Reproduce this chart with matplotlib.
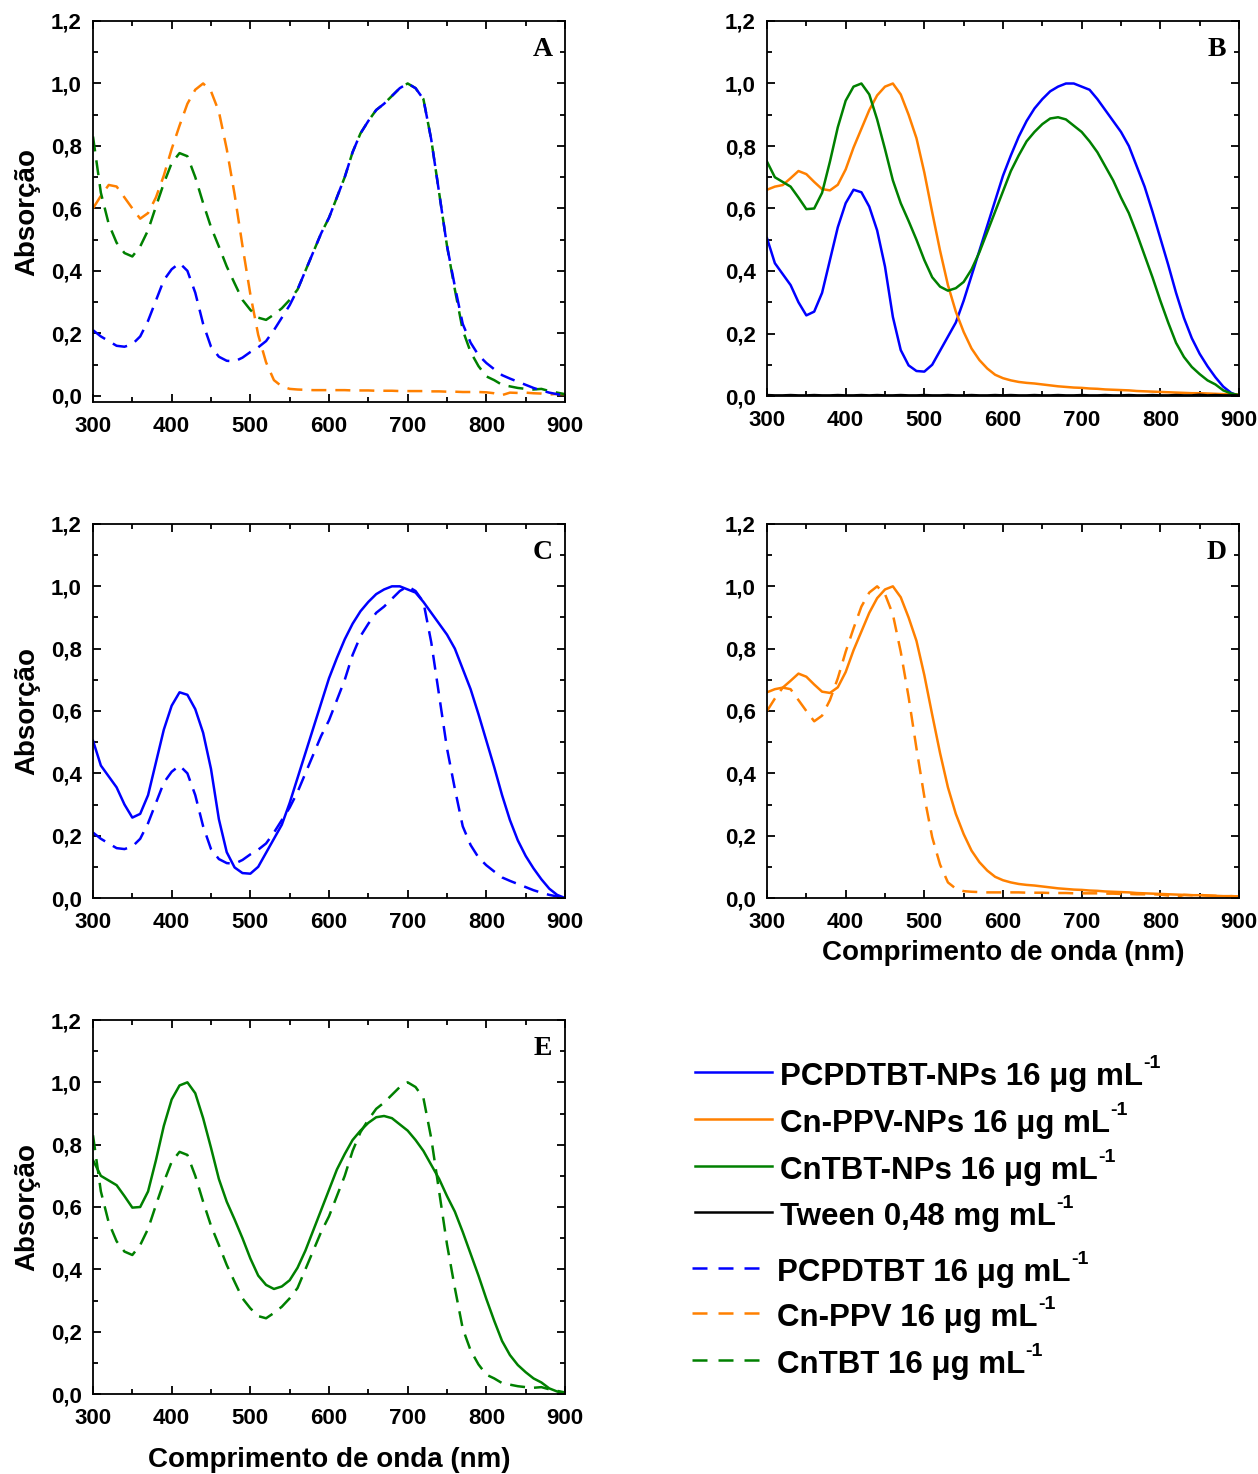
import matplotlib
matplotlib.use("Agg")
import matplotlib.pyplot as plt
from matplotlib.lines import Line2D
from matplotlib.text import Annotation
from matplotlib.ticker import MultipleLocator, FuncFormatter

plt.rcParams['font.family'] = ['Liberation Sans', 'DejaVu Sans']
plt.rcParams['font.weight'] = 'bold'

# ---------------- data ----------------
wavelength = list(range(300, 901, 10))

pcpdtbt_nps = [0.505, 0.425, 0.39, 0.355, 0.30, 0.258, 0.27, 0.33, 0.435, 0.54,
               0.617, 0.66, 0.652, 0.606, 0.53, 0.414, 0.253, 0.147, 0.098, 0.08,
               0.078, 0.10, 0.145, 0.19, 0.235, 0.305, 0.385, 0.465, 0.545, 0.625,
               0.705, 0.77, 0.83, 0.88, 0.92, 0.95, 0.975, 0.99, 1.0, 1.0,
               0.99, 0.98, 0.95, 0.915, 0.88, 0.845, 0.80, 0.735, 0.67, 0.59,
               0.505, 0.42, 0.33, 0.25, 0.185, 0.135, 0.095, 0.06, 0.03, 0.01, 0.0]

cnppv_nps = [0.66, 0.67, 0.675, 0.697, 0.72, 0.71, 0.685, 0.662, 0.658, 0.676,
             0.725, 0.795, 0.855, 0.915, 0.962, 0.99, 1.0, 0.965, 0.90, 0.825,
             0.715, 0.588, 0.465, 0.355, 0.27, 0.205, 0.152, 0.115, 0.088, 0.068,
             0.057, 0.05, 0.045, 0.042, 0.04, 0.037, 0.034, 0.031, 0.029, 0.027,
             0.026, 0.024, 0.023, 0.021, 0.02, 0.019, 0.018, 0.016, 0.015, 0.014,
             0.013, 0.012, 0.011, 0.01, 0.009, 0.009, 0.008, 0.007, 0.006, 0.006, 0.005]

cntbt_nps = [0.75, 0.70, 0.685, 0.67, 0.635, 0.598, 0.60, 0.65, 0.75, 0.86,
             0.945, 0.99, 1.0, 0.965, 0.885, 0.79, 0.69, 0.617, 0.56, 0.50,
             0.435, 0.38, 0.35, 0.337, 0.345, 0.365, 0.405, 0.46, 0.525, 0.59,
             0.655, 0.72, 0.77, 0.815, 0.845, 0.87, 0.888, 0.892, 0.885, 0.865,
             0.845, 0.815, 0.78, 0.735, 0.69, 0.635, 0.585, 0.52, 0.45, 0.38,
             0.305, 0.235, 0.17, 0.125, 0.093, 0.07, 0.05, 0.037, 0.018, 0.008, 0.003]

tween = [0.003, 0.002, 0.002, 0.003, 0.002, 0.002, 0.003, 0.002, 0.002, 0.003,
         0.002, 0.002, 0.003, 0.002, 0.003, 0.002, 0.002, 0.003, 0.002, 0.002,
         0.003, 0.002, 0.002, 0.003, 0.002, 0.002, 0.003, 0.002, 0.002, 0.003,
         0.002, 0.003, 0.002, 0.002, 0.003, 0.002, 0.002, 0.003, 0.002, 0.002,
         0.003, 0.002, 0.002, 0.003, 0.002, 0.002, 0.003, 0.002, 0.002, 0.003,
         0.002, 0.002, 0.003, 0.002, 0.002, 0.004, 0.002, 0.003, 0.002, 0.002, 0.002]

pcpdtbt = [0.21, 0.19, 0.175, 0.16, 0.157, 0.165, 0.19, 0.24, 0.305, 0.37,
           0.405, 0.425, 0.40, 0.33, 0.23, 0.157, 0.125, 0.112, 0.11, 0.122,
           0.14, 0.155, 0.175, 0.21, 0.25, 0.29, 0.34, 0.40, 0.46, 0.52,
           0.57, 0.635, 0.70, 0.78, 0.84, 0.88, 0.915, 0.935, 0.96, 0.985,
           1.0, 0.985, 0.95, 0.82, 0.65, 0.48, 0.35, 0.23, 0.17, 0.13,
           0.105, 0.085, 0.066, 0.055, 0.045, 0.035, 0.025, 0.017, 0.01, 0.005, 0.0]

cnppv = [0.60, 0.64, 0.675, 0.67, 0.635, 0.60, 0.567, 0.585, 0.635, 0.705,
         0.79, 0.865, 0.935, 0.98, 1.0, 0.975, 0.91, 0.79, 0.645, 0.48,
         0.325, 0.195, 0.107, 0.05, 0.03, 0.022, 0.02, 0.019, 0.018, 0.018,
         0.018, 0.018, 0.018, 0.017, 0.017, 0.017, 0.016, 0.016, 0.016, 0.015,
         0.015, 0.015, 0.015, 0.014, 0.014, 0.013, 0.013, 0.012, 0.012, 0.012,
         0.011, 0.008, 0.002, 0.01, 0.009, 0.01, 0.008, 0.007, 0.004, 0.006, 0.005]

cntbt = [0.83, 0.65, 0.55, 0.49, 0.457, 0.446, 0.478, 0.53, 0.606, 0.68,
         0.745, 0.777, 0.767, 0.70, 0.617, 0.54, 0.478, 0.414, 0.36, 0.307,
         0.275, 0.25, 0.243, 0.26, 0.28, 0.307, 0.34, 0.40, 0.46, 0.52,
         0.57, 0.635, 0.70, 0.78, 0.84, 0.88, 0.915, 0.935, 0.96, 0.985,
         1.0, 0.985, 0.95, 0.82, 0.65, 0.48, 0.34, 0.21, 0.14, 0.095,
         0.062, 0.05, 0.035, 0.03, 0.025, 0.022, 0.02, 0.022, 0.015, 0.01, 0.005]

legend_labels = ["PCPDTBT-NPs 16 μg mL", "Cn-PPV-NPs 16 μg mL",
                 "CnTBT-NPs 16 μg mL", "Tween 0,48 mg mL",
                 "PCPDTBT 16 μg mL", "Cn-PPV 16 μg mL",
                 "CnTBT 16 μg mL"]
legend_sup = "-1"

BLUE, ORANGE, GREEN, BLACK = '#0000FF', '#FF8000', '#008000', '#000000'
LW = 1.8
DASH = (6, 3.6)

W, H = 1258, 1474
fig = plt.figure(figsize=(W / 100, H / 100), dpi=100)


def make_axes(left, top, right, bottom):
    return fig.add_axes([left / W, 1 - bottom / H, (right - left) / W, (bottom - top) / H])


def style(ax, letter, ylabel=False, xlabel=False, ymin=0.0, xlabelpad=6):
    ax.set_xlim(300, 900)
    ax.set_ylim(ymin, 1.2)
    ax.xaxis.set_major_locator(MultipleLocator(100))
    ax.xaxis.set_minor_locator(MultipleLocator(50))
    ax.yaxis.set_major_locator(MultipleLocator(0.2))
    ax.yaxis.set_minor_locator(MultipleLocator(0.1))
    ax.yaxis.set_major_formatter(FuncFormatter(lambda v, p: f"{v:.1f}".replace('.', ',')))
    ax.xaxis.set_major_formatter(FuncFormatter(lambda v, p: f"{int(round(v))}"))
    ax.tick_params(which='both', direction='in', top=True, right=True, width=1.3)
    ax.tick_params(which='major', length=6)
    ax.tick_params(which='minor', length=3.5)
    ax.tick_params(axis='x', which='major', labelsize=16, pad=10)
    ax.tick_params(axis='y', which='major', labelsize=16, pad=8)
    for lab in ax.get_xticklabels() + ax.get_yticklabels():
        lab.set_fontweight('bold')
    for sp in ax.spines.values():
        sp.set_linewidth(1.3)
    ax.text(0.953, 0.925, letter, transform=ax.transAxes, ha='center', va='center',
            fontsize=20, fontweight='bold', family=['Liberation Serif', 'DejaVu Serif'])
    if ylabel:
        ax.set_ylabel("Absorção", fontsize=20, fontweight='bold', labelpad=8)
    if xlabel:
        ax.set_xlabel("Comprimento de onda (nm)", fontsize=20, fontweight='bold',
                      labelpad=xlabelpad)


def dashed(ax, y, color):
    ax.plot(wavelength, y, color=color, lw=LW, linestyle=(0, DASH))


def solid(ax, y, color):
    ax.plot(wavelength, y, color=color, lw=LW)


# A
axA = make_axes(93, 21, 565, 402)
dashed(axA, cnppv, ORANGE)
dashed(axA, cntbt, GREEN)
dashed(axA, pcpdtbt, BLUE)
style(axA, 'A', ylabel=True, ymin=-0.02)

# B
axB = make_axes(767, 21, 1239, 396)
solid(axB, pcpdtbt_nps, BLUE)
solid(axB, cnppv_nps, ORANGE)
solid(axB, cntbt_nps, GREEN)
solid(axB, tween, BLACK)
style(axB, 'B')

# C
axC = make_axes(93, 524, 565, 898)
solid(axC, pcpdtbt_nps, BLUE)
dashed(axC, pcpdtbt, BLUE)
style(axC, 'C', ylabel=True)

# D
axD = make_axes(767, 524, 1239, 898)
solid(axD, cnppv_nps, ORANGE)
dashed(axD, cnppv, ORANGE)
style(axD, 'D', xlabel=True, xlabelpad=5)

# E
axE = make_axes(93, 1020, 565, 1394)
solid(axE, cntbt_nps, GREEN)
dashed(axE, cntbt, GREEN)
style(axE, 'E', ylabel=True, xlabel=True, xlabelpad=13)

# legend (drawn in figure pixel coords)
rows_y = [1072, 1119, 1166, 1212, 1268, 1313, 1360]
styles = [(BLUE, '-'), (ORANGE, '-'), (GREEN, '-'), (BLACK, '-'),
          (BLUE, '--'), (ORANGE, '--'), (GREEN, '--')]
for (col, ls), lab, yy in zip(styles, legend_labels, rows_y):
    if ls == '-':
        x0, x1, xt = 695, 772, 780
        lstyle = '-'
    else:
        x0, x1, xt = 692, 766, 777
        lstyle = (0, (6, 4.4))
    fig.add_artist(Line2D([x0 / W, x1 / W], [1 - yy / H, 1 - yy / H], color=col,
                          lw=LW, linestyle=lstyle, transform=fig.transFigure))
    t = fig.text(xt / W, 1 - (yy + 5) / H, lab, fontsize=22.5, fontweight='bold',
                 ha='left', va='center')
    fig.add_artist(Annotation(legend_sup, xy=(1.0, 1.0), xycoords=t,
                              xytext=(0.3, 5), textcoords='offset points',
                              fontsize=14, fontweight='bold', ha='left', va='top'))

fig.savefig('out.png', dpi=100)
